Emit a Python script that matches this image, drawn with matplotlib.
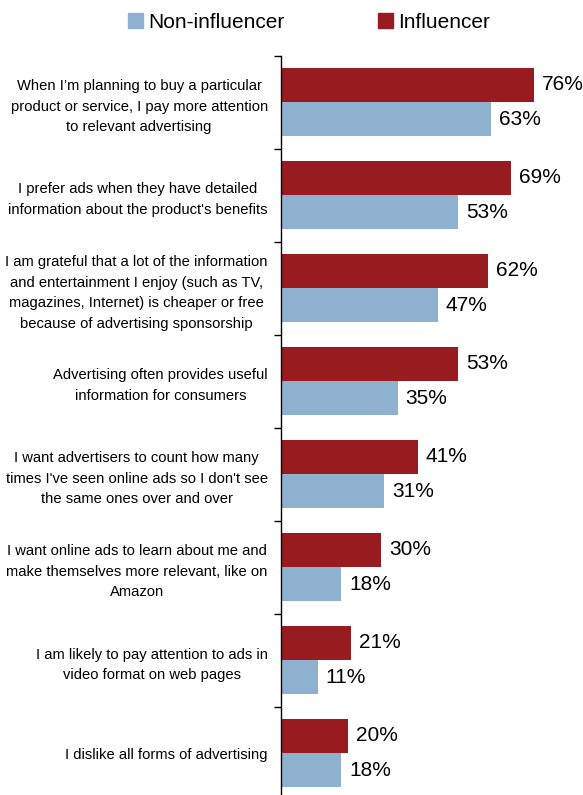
import matplotlib.pyplot as plt
from matplotlib.patches import Patch
import numpy as np

plt.rcParams['font.family'] = ['Liberation Sans', 'DejaVu Sans']

# statements, top to bottom
statements = [
    "When I\u2019m planning to buy a particular\nproduct or service, I pay more attention\nto relevant advertising",
    "I prefer ads when they have detailed\ninformation about the product's benefits",
    "I am grateful that a lot of the information\nand entertainment I enjoy (such as TV,\nmagazines, Internet) is cheaper or free\nbecause of advertising sponsorship",
    "Advertising often provides useful\ninformation for consumers",
    "I want advertisers to count how many\ntimes I've seen online ads so I don't see\nthe same ones over and over",
    "I want online ads to learn about me and\nmake themselves more relevant, like on\nAmazon",
    "I am likely to pay attention to ads in\nvideo format on web pages",
    "I dislike all forms of advertising",
]
influencer = [76, 69, 62, 53, 41, 30, 21, 20]
non_influencer = [63, 53, 47, 35, 31, 18, 11, 18]

red = '#981b1f'
blue = '#8fb1d0'

fig = plt.figure(figsize=(5.83, 7.95), dpi=100)
ax = fig.add_axes([281 / 583, -4.5 / 795, 300 / 583, 744 / 795])

y = np.arange(len(statements))
h = 0.37
ax.barh(y - h / 2, influencer, height=h, color=red)
ax.barh(y + h / 2, non_influencer, height=h, color=blue)

for i in range(len(statements)):
    ax.text(influencer[i] + 2.4, y[i] - h / 2, f"{influencer[i]}%",
            va='center', ha='left', fontsize=15)
    ax.text(non_influencer[i] + 2.4, y[i] + h / 2, f"{non_influencer[i]}%",
            va='center', ha='left', fontsize=15)

ax.set_xlim(0, 90)
ax.set_ylim(len(statements) - 0.5, -0.5)
ax.set_xticks([])
ax.set_yticks(y)
ax.set_yticklabels(statements, fontsize=10.6, multialignment='center',
                   linespacing=1.6)
ax.tick_params(axis='y', which='major', length=0, pad=9.5)
ax.set_yticks(np.arange(-0.5, len(statements), 1), minor=True)
ax.tick_params(axis='y', which='minor', length=5, width=1)
for s in ['top', 'right', 'bottom']:
    ax.spines[s].set_visible(False)
ax.spines['left'].set_linewidth(1)

handles = [Patch(color=blue, label='Non-influencer'),
           Patch(color=red, label='Influencer')]
fig.legend(handles=handles, loc='center', bbox_to_anchor=(0.53, 0.972),
           ncol=2, frameon=False, fontsize=15, handlelength=0.7,
           handleheight=0.7, handletextpad=0.25, columnspacing=4.5)

fig.savefig('out.png', dpi=100)
